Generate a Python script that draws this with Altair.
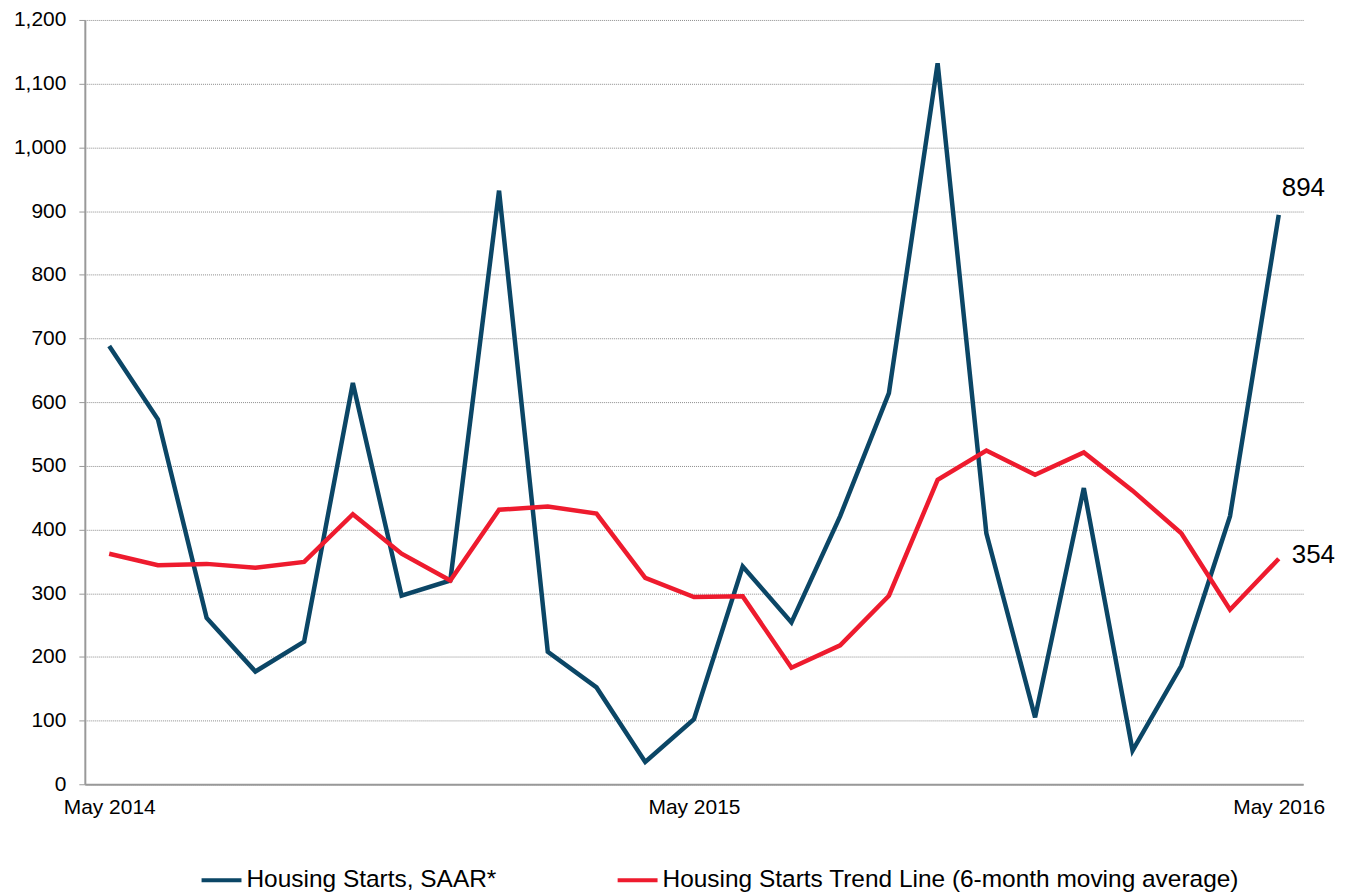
import altair as alt
import pandas as pd

months = [
    "May 2014", "Jun 2014", "Jul 2014", "Aug 2014", "Sep 2014", "Oct 2014", "Nov 2014", "Dec 2014",
    "Jan 2015", "Feb 2015", "Mar 2015", "Apr 2015", "May 2015", "Jun 2015", "Jul 2015", "Aug 2015",
    "Sep 2015", "Oct 2015", "Nov 2015", "Dec 2015", "Jan 2016", "Feb 2016", "Mar 2016", "Apr 2016",
    "May 2016",
]
starts_saar = [688, 573, 261, 177, 224, 630, 296, 320, 932, 208, 152, 35, 102, 342, 254, 421,
               614, 1132, 394, 105, 465, 53, 186, 421, 894]
trend_6m = [362, 344, 346, 340, 349, 424, 362, 320, 431, 436, 425, 324, 294, 295, 183, 218,
            296, 478, 524, 486, 521, 461, 394, 274, 354]
series_names = ["Housing Starts, SAAR*", "Housing Starts Trend Line (6-month moving average)"]
series_colors = ["#0B4666", "#EE1B2E"]
x_tick_labels = ["May 2014", "May 2015", "May 2016"]
y_ticks = list(range(0, 1300, 100))

rows = []
for m, a, b in zip(months, starts_saar, trend_6m):
    rows.append({"month": m, "series": series_names[0], "value": a})
    rows.append({"month": m, "series": series_names[1], "value": b})
df = pd.DataFrame(rows)

last_df = pd.DataFrame([
    {"month": months[-1], "series": series_names[0], "value": starts_saar[-1]},
    {"month": months[-1], "series": series_names[1], "value": trend_6m[-1]},
])

font = "Liberation Sans"

x_enc = alt.X(
    "month:N",
    sort=months,
    scale=alt.Scale(type="point", padding=0.5),
    axis=alt.Axis(
        values=x_tick_labels, title=None, labelAngle=0, ticks=False,
        domainColor="#999999", domainWidth=2, labelFontSize=21, labelFont=font,
        labelColor="#000000", labelPadding=12, grid=False,
    ),
)
y_enc = alt.Y(
    "value:Q",
    scale=alt.Scale(domain=[0, 1200], nice=False),
    axis=alt.Axis(
        values=y_ticks, format=",.0f", title=None, tickSize=6, tickColor="#999999",
        domainColor="#999999", domainWidth=2, labelFontSize=21, labelFont=font,
        labelColor="#000000", labelPadding=13, grid=True, gridColor="#8c8c8c",
        gridDash=[1, 1], gridWidth=1,
    ),
)

lines = alt.Chart(df).mark_line(strokeWidth=4.5, strokeJoin="miter").encode(
    x=x_enc,
    y=y_enc,
    color=alt.Color(
        "series:N",
        scale=alt.Scale(domain=series_names, range=series_colors),
        legend=alt.Legend(
            title=None, orient="none", direction="horizontal", legendX=115, legendY=840,
            symbolType="stroke", symbolSize=1600, symbolStrokeWidth=4, labelFontSize=24.5,
            labelFont=font, labelColor="#000000", labelOffset=3, columnPadding=113,
            labelLimit=800,
        ),
    ),
    detail="series:N",
)

label_894 = alt.Chart(last_df[last_df["series"] == series_names[0]]).mark_text(
    align="left", baseline="bottom", dx=3, dy=-14, fontSize=26, font=font, color="#000000"
).encode(x=alt.X("month:N", sort=months), y="value:Q", text="value:Q")

label_354 = alt.Chart(last_df[last_df["series"] == series_names[1]]).mark_text(
    align="left", baseline="middle", dx=13, dy=-4, fontSize=26, font=font, color="#000000"
).encode(x=alt.X("month:N", sort=months), y="value:Q", text="value:Q")

chart = alt.layer(lines, label_894, label_354).properties(
    width=1221, height=766,
    autosize=alt.AutoSizeParams(type="none"),
    padding={"left": 77, "top": 11, "right": 50, "bottom": 108},
    background="#ffffff",
).configure_view(strokeWidth=0)

chart.save("out.html", embed_options={"renderer": "svg", "actions": False})
